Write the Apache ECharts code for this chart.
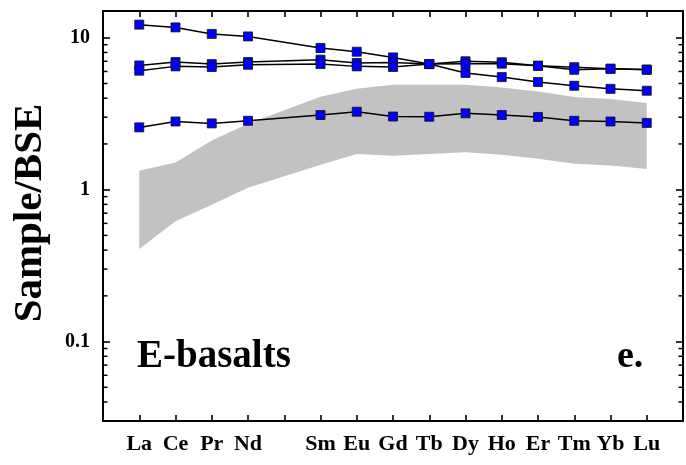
<!DOCTYPE html>
<html><head><meta charset="utf-8">
<script src="https://cdn.jsdelivr.net/npm/echarts@6/dist/echarts.min.js"></script>
<style>html,body{margin:0;padding:0;background:#fff}#c{width:686px;height:465px}</style>
</head><body><div id="c"></div>
<script>
const elements = ['La','Ce','Pr','Nd','Pm','Sm','Eu','Gd','Tb','Dy','Ho','Er','Tm','Yb','Lu'];
const xTickLabels = ['La','Ce','Pr','Nd','','Sm','Eu','Gd','Tb','Dy','Ho','Er','Tm','Yb','Lu'];
const sample1 = [12.2, 11.7, 10.6, 10.2, null, 8.56, 8.09, 7.42, 6.71, 5.86, 5.51, 5.11, 4.83, 4.61, 4.48];
const sample2 = [6.57, 6.92, 6.71, 6.92, null, 7.17, 6.82, 6.88, 6.71, 7.0, 6.9, 6.54, 6.4, 6.25, 6.18];
const sample3 = [6.07, 6.48, 6.42, 6.64, null, 6.71, 6.48, 6.42, 6.71, 6.75, 6.75, 6.54, 6.15, 6.25, 6.15];
const sample4 = [2.57, 2.81, 2.73, 2.84, null, 3.10, 3.26, 3.03, 3.02, 3.18, 3.10, 3.01, 2.84, 2.81, 2.75];
const fieldUpper = [1.33, 1.51, 2.11, 2.72, null, 4.09, 4.61, 4.91, 4.91, 4.91, 4.71, 4.43, 4.07, 3.95, 3.72];
const fieldLower = [0.407, 0.619, 0.797, 1.03, null, 1.46, 1.72, 1.67, 1.72, 1.76, 1.70, 1.60, 1.48, 1.44, 1.37];
const yTickValues = [0.1, 1, 10];
const yTickLabels = ['0.1', '1', '10'];
const yMin = 0.03, yMax = 15;

const minorTickValues = [];
[0.01, 0.1, 1, 10].forEach(d => {
  for (let m = 2; m <= 9; m++) {
    const v = +(d * m).toPrecision(3);
    if (v >= yMin && v <= yMax) minorTickValues.push(v);
  }
});

const serif = '"Liberation Serif", "Times New Roman", serif';
const toPairs = arr => arr.map((v, i) => v == null ? null : [i, v]).filter(p => p);

function yLabel(v) {
  for (let i = 0; i < yTickValues.length; i++) {
    if (Math.abs(v - yTickValues[i]) / yTickValues[i] < 1e-6) return yTickLabels[i];
  }
  return '';
}

const axisLineStyle = () => ({ color: '#000', width: 2 });
const tickStyle = () => ({ color: '#000', width: 1.6 });

function lineSeries(data) {
  return {
    type: 'line', data: toPairs(data), xAxisIndex: 0, yAxisIndex: 0,
    symbol: 'rect', symbolSize: 9,
    itemStyle: { color: '#0000ff', borderColor: '#111', borderWidth: 0.8 },
    lineStyle: { color: '#000', width: 1.5 },
    z: 5, silent: true, animation: false
  };
}

const chart = echarts.init(document.getElementById('c'), null, { renderer: 'canvas' });
chart.setOption({
  backgroundColor: '#fff',
  animation: false,
  grid: { left: 103, right: 1, top: 11, bottom: 44 },
  xAxis: [
    {
      type: 'value', min: -1, max: 15, interval: 1, position: 'bottom',
      axisLine: { show: true, onZero: false, lineStyle: axisLineStyle() },
      axisTick: { show: true, inside: true, length: 6, lineStyle: tickStyle() },
      axisLabel: {
        formatter: v => xTickLabels[v] ?? '', margin: 12,
        fontFamily: serif, fontWeight: 'bold', fontSize: 22, color: '#000'
      },
      splitLine: { show: false }
    },
    {
      type: 'value', min: -1, max: 15, interval: 1, position: 'top',
      axisLine: { show: true, onZero: false, lineStyle: axisLineStyle() },
      axisTick: { show: true, inside: true, length: 6, lineStyle: tickStyle() },
      axisLabel: { show: false },
      splitLine: { show: false }
    }
  ],
  yAxis: [
    {
      type: 'log', logBase: 10, min: yMin, max: yMax, position: 'left',
      axisLine: { show: true, onZero: false, lineStyle: axisLineStyle() },
      axisTick: { show: true, inside: true, length: 7, lineStyle: tickStyle() },
      axisLabel: {
        formatter: yLabel, showMinLabel: false, showMaxLabel: false, margin: 13,
        fontFamily: serif, fontWeight: 'bold', fontSize: 20, color: '#000'
      },
      splitLine: { show: false }
    },
    {
      type: 'log', logBase: 10, min: yMin, max: yMax, position: 'right',
      axisLine: { show: true, onZero: false, lineStyle: axisLineStyle() },
      axisTick: { show: true, inside: true, length: 7, lineStyle: tickStyle() },
      axisLabel: { show: false },
      splitLine: { show: false }
    }
  ],
  series: [
    {
      type: 'custom', xAxisIndex: 0, yAxisIndex: 0, silent: true, z: 1,
      data: [[0, 1]],
      renderItem: (params, api) => {
        const pts = [];
        elements.forEach((e, i) => { if (fieldUpper[i] != null) pts.push(api.coord([i, fieldUpper[i]])); });
        for (let i = elements.length - 1; i >= 0; i--) {
          if (fieldLower[i] != null) pts.push(api.coord([i, fieldLower[i]]));
        }
        return { type: 'polygon', shape: { points: pts }, style: { fill: '#c2c2c2', stroke: null } };
      }
    },
    {
      type: 'custom', xAxisIndex: 0, yAxisIndex: 0, silent: true, z: 10, clip: false,
      data: minorTickValues.map(v => [-1, v]),
      renderItem: (params, api) => {
        const v = api.value(1);
        const pL = api.coord([-1, v]);
        const pR = api.coord([15, v]);
        return {
          type: 'group', children: [
            { type: 'line', shape: { x1: pL[0], y1: pL[1], x2: pL[0] + 4.5, y2: pL[1] }, style: { stroke: '#000', lineWidth: 1.5 } },
            { type: 'line', shape: { x1: pR[0], y1: pR[1], x2: pR[0] - 4.5, y2: pR[1] }, style: { stroke: '#000', lineWidth: 1.5 } }
          ]
        };
      }
    },
    lineSeries(sample1),
    lineSeries(sample2),
    lineSeries(sample3),
    lineSeries(sample4)
  ],
  graphic: [
    {
      type: 'text', x: 30, y: 213, rotation: Math.PI / 2, silent: true,
      style: { text: 'Sample/BSE', font: 'bold 41px ' + serif, fill: '#000',
        align: 'center', verticalAlign: 'middle', textAlign: 'center', textVerticalAlign: 'middle' }
    },
    {
      type: 'text', x: 137, y: 357, silent: true,
      style: { text: 'E-basalts', font: 'bold 39px ' + serif, fill: '#000',
        align: 'left', verticalAlign: 'middle', textAlign: 'left', textVerticalAlign: 'middle' }
    },
    {
      type: 'text', x: 617, y: 357, silent: true,
      style: { text: 'e.', font: 'bold 38px ' + serif, fill: '#000',
        align: 'left', verticalAlign: 'middle', textAlign: 'left', textVerticalAlign: 'middle' }
    }
  ]
});
</script>
</body></html>
